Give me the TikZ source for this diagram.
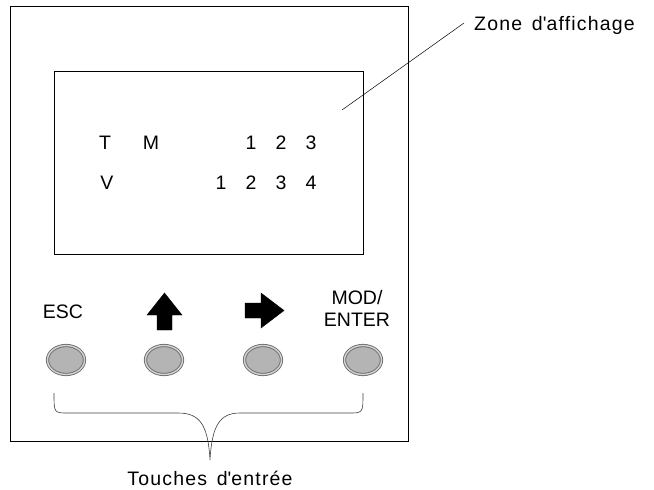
\documentclass[tikz,border=0pt]{standalone}
\usepackage{fontspec}
\setmainfont{Liberation Sans}
\usetikzlibrary{shapes,positioning,calc}
\definecolor{keyring}{HTML}{6E6E6E}
\definecolor{keyface}{HTML}{B4B4B4}

\tikzset{
  lbl/.style={font=\fontsize{19.5}{22}\selectfont\addfontfeature{LetterSpace=6}, inner sep=0pt},
  capslbl/.style={font=\fontsize{19.5}{22}\selectfont, inner sep=0pt},
  dsp/.style={font=\fontsize{19.5}{22}\selectfont, inner sep=0pt},
  keybtn/.style={ellipse, draw=keyring, line width=0.9pt, double=keyface!60, double distance=1.4pt,
    fill=keyface, minimum width=37pt, minimum height=29pt, inner sep=0pt},
  arrowfill/.style={fill=black, draw=black, line width=0.4pt}
}

\begin{document}
\begin{tikzpicture}[x=1pt, y=-1pt]
\useasboundingbox (0,0) rectangle (654,490);

% panel and display
\draw[line width=0.8pt] (10,6) rectangle (408,441);
\draw[line width=0.8pt] (54,71) rectangle (363,254);

% display contents
\node[dsp] (tT) at (105,143) {T};
\node[dsp] (tM) at (151,143) {M};
\node[dsp] (tV) at (107,183) {V};
\foreach \i in {1,2,3}
  \node[dsp] (top\i) at ({221+30*\i},143) {\i};
\foreach \i in {1,2,3,4}
  \node[dsp] (bot\i) at ({191+30*\i},183) {\i};

% display label
\node[lbl, anchor=west] (zone) at (474,25) {Zone\, d\textquotesingle affichage};
\coordinate (zonept) at (342,110);
\draw[line width=0.5pt] (zonept) -- ([xshift=-10pt,yshift=2pt]zone.west);

% keys
\node[keybtn] (kesc) at (66,360) {};
\node[keybtn] (kup) at (164,360) {};
\node[keybtn] (kright) at (263,360) {};
\node[keybtn] (kmod) at (363,360) {};

\node[capslbl] (tesc) at (63,312) {ESC};
\node[capslbl, align=center] (tmod) at (357,308) {MOD/\\[0pt]ENTER};
\draw[arrowfill] (164.5,293) -- (182,315) -- (172,315) -- (172,330)
  -- (157,330) -- (157,315) -- (147,315) -- cycle;
\draw[arrowfill] (284,310.5) -- (261,328) -- (261,318) -- (245,318)
  -- (245,303) -- (261,303) -- (261,293) -- cycle;

% brace under the keys
\coordinate (brl) at (54,393);
\coordinate (brr) at (363,393);
\coordinate (brtip) at (210,460);
\draw[line width=0.6pt, black!75] (brl)
  .. controls (54,413) and (54,413) .. (68,413) -- (178,413)
  .. controls (200,413) and (208,425) .. (brtip)
  .. controls (212,425) and (220,413) .. (240,413) -- (349,413)
  .. controls (363,413) and (363,413) .. (brr);
\node[lbl] (keys) at (210,478) {Touches\, d\textquotesingle entrée};
\end{tikzpicture}
\end{document}
